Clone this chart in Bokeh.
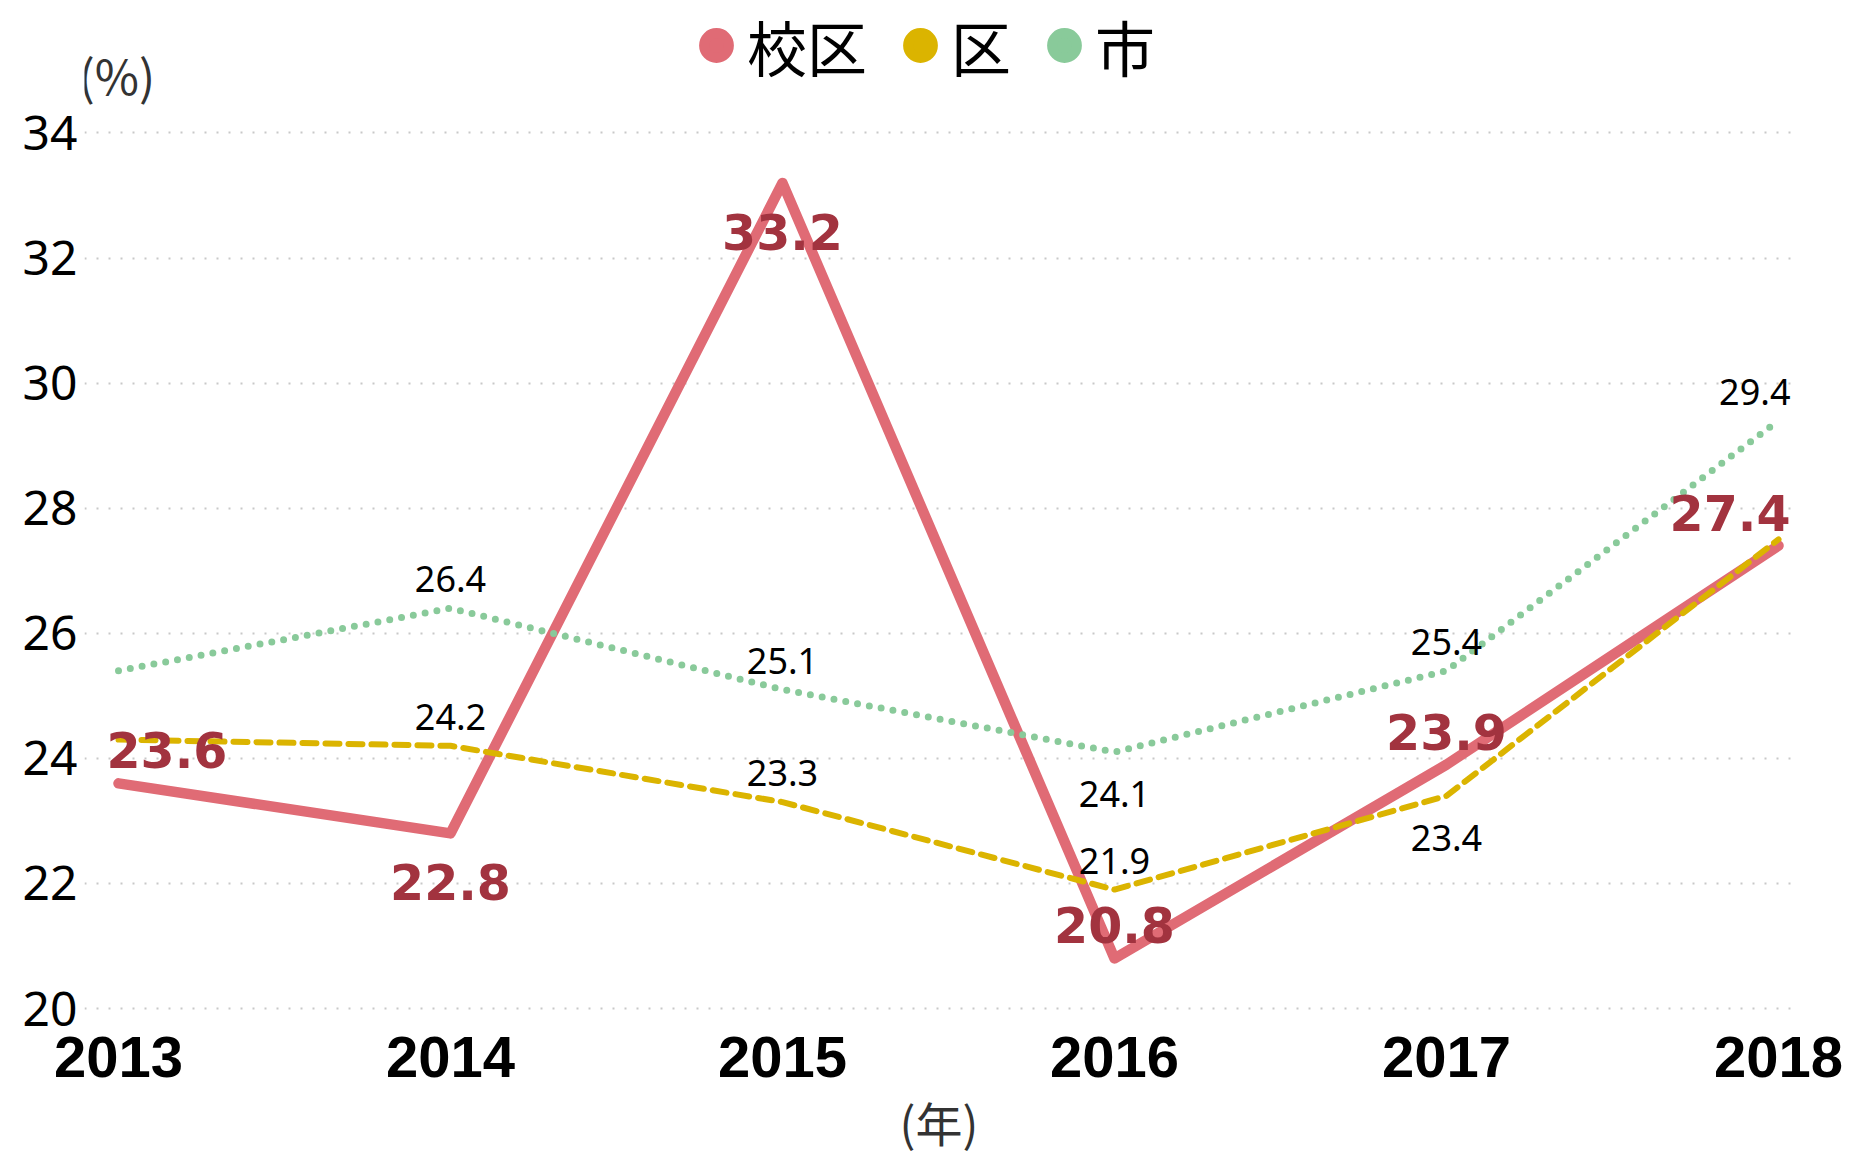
import math
from bokeh.plotting import figure
from bokeh.models import Range1d, Legend, LegendItem, Label, ColumnDataSource
from bokeh.embed import file_html
from bokeh.resources import INLINE
from bokeh.core.properties import value

# ---- data ----
years = [2013, 2014, 2015, 2016, 2017, 2018]
kouku = [23.6, 22.8, 33.2, 20.8, 23.9, 27.4]   # 校区
ku = [24.3, 24.2, 23.3, 21.9, 23.4, 27.5]      # 区
shi = [25.4, 26.4, 25.1, 24.1, 25.4, 29.4]     # 市
series_names = ["校区", "区", "市"]
y_ticks = [20, 22, 24, 26, 28, 30, 32, 34]
x_ticks = years

# label placement (None = label not shown)
kouku_pos = ["above", "below", "below", "above", "above", "above"]
ku_pos = [None, "above", "above", "above", "below", None]
shi_pos = [None, "above", "above", "below", "above", "above"]

colors = ["#e06b75", "#dbb400", "#89ca9a"]
label_red = "#a2333f"

# frame spans the full canvas height down to the x axis so that the
# header (legend, unit label) sits inside the drawable area
FRAME_LEFT, FRAME_RIGHT_BORDER, BOTTOM_BORDER = 84, 57, 144
PX_PER_YEAR = 332.0
PX_PER_UNIT = 62.79
frame_h = 1158 - BOTTOM_BORDER
y_lo = 20 - 2 / PX_PER_UNIT
y_hi = y_lo + frame_h / PX_PER_UNIT
x_lo = 2013 - 34 / PX_PER_YEAR
x_hi = x_lo + (1850 - FRAME_LEFT - FRAME_RIGHT_BORDER) / PX_PER_YEAR

p = figure(width=1850, height=1158,
           x_range=Range1d(x_lo, x_hi), y_range=Range1d(y_lo, y_hi),
           output_backend="svg", toolbar_location=None,
           min_border_left=FRAME_LEFT, min_border_right=FRAME_RIGHT_BORDER,
           min_border_top=0, min_border_bottom=BOTTOM_BORDER)
p.outline_line_color = None
p.background_fill_color = "white"
p.xgrid.visible = False
p.ygrid.grid_line_color = "#c8c8c8"
p.ygrid.grid_line_dash = "2 10"
p.ygrid.grid_line_width = 2

p.yaxis.ticker = y_ticks
p.xaxis.ticker = x_ticks
for ax in (p.xaxis, p.yaxis):
    ax.axis_line_color = None
    ax.major_tick_line_color = None
    ax.minor_tick_line_color = None
p.yaxis.major_label_text_font = "Noto Sans"
p.yaxis.major_label_text_font_size = "48px"
p.yaxis.major_label_text_color = "black"
p.yaxis.major_label_standoff = 1
p.xaxis.major_label_text_font = "Liberation Sans"
p.xaxis.major_label_text_font_style = "bold"
p.xaxis.major_label_text_font_size = "58px"
p.xaxis.major_label_text_color = "black"
p.xaxis.major_label_standoff = 20
p.xaxis.axis_label = "(年)"
p.xaxis.axis_label_text_font = "Noto Sans CJK JP"
p.xaxis.axis_label_text_font_style = "normal"
p.xaxis.axis_label_text_font_size = "47px"
p.xaxis.axis_label_text_color = "#333333"
p.xaxis.axis_label_standoff = 7

# ---- lines ----
p.line(years, kouku, line_color=colors[0], line_width=10.5, line_join="round", line_cap="round")
p.line(years, ku, line_color=colors[1], line_width=6, line_dash="14 9", line_cap="round")
p.line(years, shi, line_color=colors[2], line_width=7, line_dash="0 12", line_cap="round")

# ---- data labels ----
def add_labels(vals, pos, font, size, style, color, above_off, below_off):
    xs, ys, txt, aligns, xo, yo = [], [], [], [], [], []
    n = len(years)
    for i, (yr, v, ps) in enumerate(zip(years, vals, pos)):
        if ps is None:
            continue
        xs.append(yr)
        ys.append(v)
        txt.append(f"{v:.1f}")
        if i == 0:
            aligns.append("left"); xo.append(-12)
        elif i == n - 1:
            aligns.append("right"); xo.append(12)
        else:
            aligns.append("center"); xo.append(0)
        yo.append(above_off if ps == "above" else below_off)
    src = ColumnDataSource(dict(x=xs, y=ys, t=txt, a=aligns, xo=xo, yo=yo))
    p.text(x="x", y="y", text="t", source=src, text_align="a", x_offset="xo", y_offset="yo",
           text_baseline="alphabetic", text_font=value(font), text_font_size=size,
           text_font_style=style, text_color=color)

add_labels(kouku, kouku_pos, "DejaVu Sans", "49px", "bold", label_red, -33, 49)
add_labels(ku, ku_pos, "Noto Sans", "36px", "normal", "black", -29, 42)
add_labels(shi, shi_pos, "Noto Sans", "36px", "normal", "black", -29, 42)

# ---- legend (circle proxies; thick outline enlarges the dot) ----
nan = float("nan")
proxies = [p.scatter([nan], [nan], size=35, fill_color=c, line_color=c, line_width=10,
                     marker="circle") for c in colors]
legend = Legend(items=[LegendItem(label=nm, renderers=[r]) for nm, r in zip(series_names, proxies)],
                location=(685 - FRAME_LEFT, frame_h - 93), orientation="horizontal",
                glyph_width=62, glyph_height=88, label_standoff=0, spacing=22,
                padding=0, margin=0, border_line_color=None, background_fill_alpha=0,
                label_text_font="Noto Sans CJK JP", label_text_font_size="60px",
                label_text_color="black")
p.add_layout(legend)

# ---- unit label ----
p.add_layout(Label(x=-6, y=frame_h - 77, x_units="screen", y_units="screen", text="(%)",
                   text_font="Noto Sans CJK JP", text_font_size="48px", text_color="#333333",
                   text_align="left", text_baseline="middle"))

open("out.html", "w").write(file_html(p, INLINE))
